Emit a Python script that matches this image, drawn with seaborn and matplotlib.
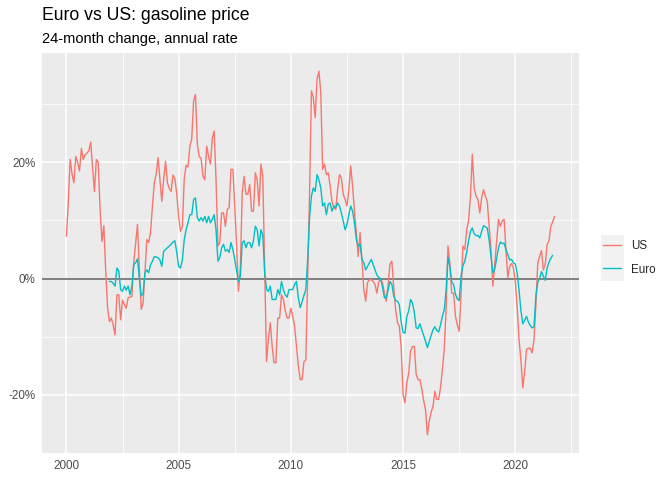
import numpy as np
import pandas as pd
import matplotlib
matplotlib.use("Agg")
import matplotlib.pyplot as plt
from matplotlib.ticker import MultipleLocator, FuncFormatter
from matplotlib.patches import Rectangle
import seaborn as sns

# 24-month change in gasoline price, annual rate (%), monthly
us = [
    # 2000
    7.3, 13, 20.5, 18, 16.5, 21, 20, 18.5, 22.4, 20.5, 21.3, 21.6,
    # 2001
    22, 23.5, 19, 15, 20.5, 20, 12, 6.4, 9.1, 1.5, -5, -7.4,
    # 2002
    -6.8, -8, -9.7, -2.8, -2.8, -7.1, -3.7, -4.5, -5.1, -3.3, -3.2, -3.1,
    # 2003
    2.8, 6, 9.3, 1.5, -5.3, -4.2, 1, 6.7, 6.2, 8, 12.5, 16.5,
    # 2004
    18, 20.8, 17, 13.3, 17, 20.2, 16.5, 15.5, 15, 17.8, 17.2, 14.5,
    # 2005
    10.7, 8.1, 9, 17.2, 19.5, 19.2, 22.8, 24, 30.6, 31.7, 23.1, 21,
    # 2006
    20.7, 17.6, 17, 22.8, 21, 19.7, 24.2, 25.4, 17, 5.6, 6.2, 11.3,
    # 2007
    11.3, 9, 11.9, 12.2, 18.8, 18.8, 12.5, 5.6, -2.2, 1.8, 14.8, 17.6,
    # 2008
    14.5, 14.5, 16.2, 11.6, 11.6, 18.2, 17, 12.5, 19.7, 17.6, 2.1, -14.3,
    # 2009
    -10.5, -7.6, -11.7, -14.5, -14.5, -6.8, -6.8, -2.8, -3.6, -5.5, -6.8, -6.8,
    # 2010
    -5.1, -6.5, -8.2, -11.7, -15, -17.4, -17.4, -14.3, -14, 0.4, 14.8, 32.3,
    # 2011
    31.2, 27.7, 34.3, 35.7, 32, 18.8, 19.7, 17.9, 18.2, 15.9, 13.3, 12.2,
    # 2012
    11.9, 15.3, 17.9, 17.3, 14.5, 13.6, 12.5, 15.3, 19.4, 15.9, 11.6, 7.9,
    # 2013
    3.8, 7.9, 3.3, -1.9, -3.9, -0.7, -0.2, -0.2, -0.5, -1, -2.5, -0.5,
    # 2014
    -0.2, -0.7, -2.5, -3.9, -1, 2.5, 3, -1.5, -5.3, -7.6, -8.2, -12,
    # 2015
    -20, -21.4, -18, -16.3, -12.5, -11.7, -11.7, -16.5, -17.4, -17.4, -19, -21,
    # 2016
    -22.6, -26.9, -24.5, -23, -22, -19.4, -20.8, -20.8, -18.8, -15.7, -12.2, -5.3,
    # 2017
    5.6, 2.6, -2.5, -2.5, -6.5, -8, -9.1, -2.5, 5.6, 5, 8.4, 10,
    # 2018
    14, 21.4, 15.6, 14.2, 13.6, 11.3, 13.9, 15.3, 14.2, 13.3, 9, 5,
    # 2019
    -1.3, 2.6, 6.5, 10.2, 9, 9.9, 10.2, 5, 0.2, 2.1, 2.6, 1.8,
    # 2020
    -0.5, -5, -10.5, -14, -18.8, -16, -12.2, -12, -12, -12.8, -10.5, -4.5,
    # 2021
    2.7, 3.8, 4.8, 1.5, 2.5, 5.8, 6.5, 9, 9.8, 10.7,
]

euro = [
    # 2001 (Dec)
    -0.5,
    # 2002
    -0.5, -0.8, -1.3, 1.8, 1.3, -1.9, -2.2, -1.3, -2, -1.3, -2.8, -1.3,
    # 2003
    2.4, 2.7, 3.4, 0, -3, -2.5, 1, 1.5, 1, 2.4, 3, 3.8,
    # 2004
    3.7, 3.6, 3.2, 2.1, 4.7, 5, 5.3, 5.6, 5.9, 6.3, 6.5, 4.5,
    # 2005
    2.1, 1.8, 3.2, 6.7, 8.4, 9.6, 11, 11, 13.6, 13.9, 10.5, 9.9,
    # 2006
    10.5, 9.9, 10.7, 9.6, 10.7, 9.6, 10.2, 11, 8.4, 3, 3.6, 5.3,
    # 2007
    5.9, 4.7, 5, 4.5, 6.2, 5, 3.3, 1.3, -0.5, 0.4, 6.2, 6.5,
    # 2008
    5.3, 6.2, 6.2, 5.3, 6.5, 9, 8.4, 5.6, 8.4, 7.5, 1, -1.9,
    # 2009
    -2.2, -1.3, -3.6, -3.6, -3.6, -1.9, -2.8, -0.5, -1.9, -2.8, -3.2, -1.9,
    # 2010
    -1.9, -1.9, -1, -0.5, -3.3, -5, -4, -2.9, -1.9, 3.3, 10.5, 14.2,
    # 2011
    15.6, 15, 17.9, 17, 15.6, 12.5, 13, 11, 12.8, 13, 11.6, 12.5,
    # 2012
    12.2, 13, 12.5, 11.3, 9.9, 8.4, 9.3, 11, 12.5, 11.6, 9.6, 6.7,
    # 2013
    5.6, 5.9, 3.3, 2.7, 1.5, 2.1, 2.7, 3.3, 2.4, 1.5, 0.6, 0.2,
    # 2014
    0, -1.5, -3.3, -3.3, -2, -0.5, -1, -3, -3.8, -3.9, -4.5, -7.5,
    # 2015
    -9.3, -9.4, -6.5, -5.6, -3.6, -4.2, -5.8, -8.5, -8.6, -7.8, -8.8, -9.8,
    # 2016
    -10.8, -11.9, -10.8, -9.8, -8.8, -8.3, -8.9, -9.2, -8, -6.5, -5.4, -2,
    # 2017
    3.6, 2.1, -0.6, -1, -2.7, -3.5, -3.8, 0.5, 2.2, 3, 4.5, 6.5,
    # 2018
    8.1, 8.7, 7.7, 7.4, 7.4, 7, 8.1, 9.1, 8.9, 8.7, 6.6, 3.8,
    # 2019
    1, 1.6, 3.4, 5.3, 6.3, 6, 6.1, 5, 4.1, 3.2, 3.3, 2.7,
    # 2020
    2.5, 1, -2, -5.5, -7.8, -7.2, -6.5, -7.5, -8.1, -8.5, -8.3, -3,
    # 2021
    -0.6, 0, 1.2, 0.4, -0.3, 1.8, 2.8, 3.5, 4,
]

us_dates = pd.date_range("2000-01-01", periods=len(us), freq="MS")
euro_dates = pd.date_range("2001-12-01", periods=len(euro), freq="MS")

series_names = ["US", "Euro"]
colors = {"US": "#F8766D", "Euro": "#00BFC4"}


def decimal_year(d):
    return d.year + (d.month - 1) / 12


df = pd.concat([
    pd.DataFrame({"date": decimal_year(us_dates), "change": us, "series": "US"}),
    pd.DataFrame({"date": decimal_year(euro_dates), "change": euro, "series": "Euro"}),
], ignore_index=True)

####################################################################
# ggplot-like look
sns.set_style("darkgrid", {
    "axes.facecolor": "#EBEBEB",
    "grid.color": "white",
    "axes.edgecolor": "none",
})
plt.rcParams["font.family"] = ["Liberation Sans", "DejaVu Sans"]

fig = plt.figure(figsize=(6.72, 4.8), dpi=100)
ax = fig.add_axes([42 / 672, 1 - 453 / 480, (579 - 42) / 672, (453 - 53) / 480])

ax.axhline(0, color="#7F7F7F", lw=1.4, zorder=1.5)

sns.lineplot(data=df, x="date", y="change", hue="series", hue_order=series_names,
             palette=colors, lw=1.0, ax=ax, legend=True, zorder=3)

# axis limits with ggplot's 5% expansion
x0, x1 = df["date"].min(), df["date"].max()
y0, y1 = df["change"].min(), df["change"].max()
ax.set_xlim(x0 - 0.05 * (x1 - x0), x1 + 0.05 * (x1 - x0))
ax.set_ylim(y0 - 0.05 * (y1 - y0), y1 + 0.05 * (y1 - y0))

ax.xaxis.set_major_locator(MultipleLocator(5))
ax.xaxis.set_minor_locator(MultipleLocator(5, offset=2.5))
ax.yaxis.set_major_locator(MultipleLocator(20))
ax.yaxis.set_minor_locator(MultipleLocator(20, offset=10))
ax.xaxis.set_major_formatter(FuncFormatter(lambda v, p: f"{v:.0f}"))
ax.yaxis.set_major_formatter(FuncFormatter(lambda v, p: f"{v:.0f}%"))

ax.grid(which="major", color="white", lw=1.1)
ax.grid(which="minor", color="white", lw=0.55)
ax.set_axisbelow(True)
for s in ax.spines.values():
    s.set_visible(False)

ax.tick_params(axis="both", which="major", length=2.7, width=0.8, color="#333333",
               labelcolor="#4D4D4D", labelsize=8.4, pad=2.2, direction="out")
ax.tick_params(axis="both", which="minor", length=0)
ax.set_xlabel("")
ax.set_ylabel("")

# legend on the right, no title, grey key background
handles, labels = ax.get_legend_handles_labels()
ax.get_legend().remove()
for h in handles:
    h.set_linewidth(1.0)
fig.patches.append(Rectangle((601 / 672, 1 - 281 / 480), 23 / 672, 46 / 480,
                             transform=fig.transFigure, facecolor="#F2F2F2",
                             edgecolor="none", zorder=0))
fig.legend(handles, labels, loc="center left",
           bbox_to_anchor=(603 / 672, 1 - 258 / 480), bbox_transform=fig.transFigure,
           frameon=False, fontsize=8.4, handlelength=1.55, handletextpad=0.85,
           labelspacing=0.95, borderpad=0, borderaxespad=0)

fig.text(42 / 672, 1 - 19.5 / 480, "Euro vs US: gasoline price", fontsize=12.7,
         ha="left", va="baseline", color="black")
fig.text(42 / 672, 1 - 42.5 / 480, "24-month change, annual rate", fontsize=10.5,
         ha="left", va="baseline", color="black")

fig.savefig("out.png", dpi=100)
